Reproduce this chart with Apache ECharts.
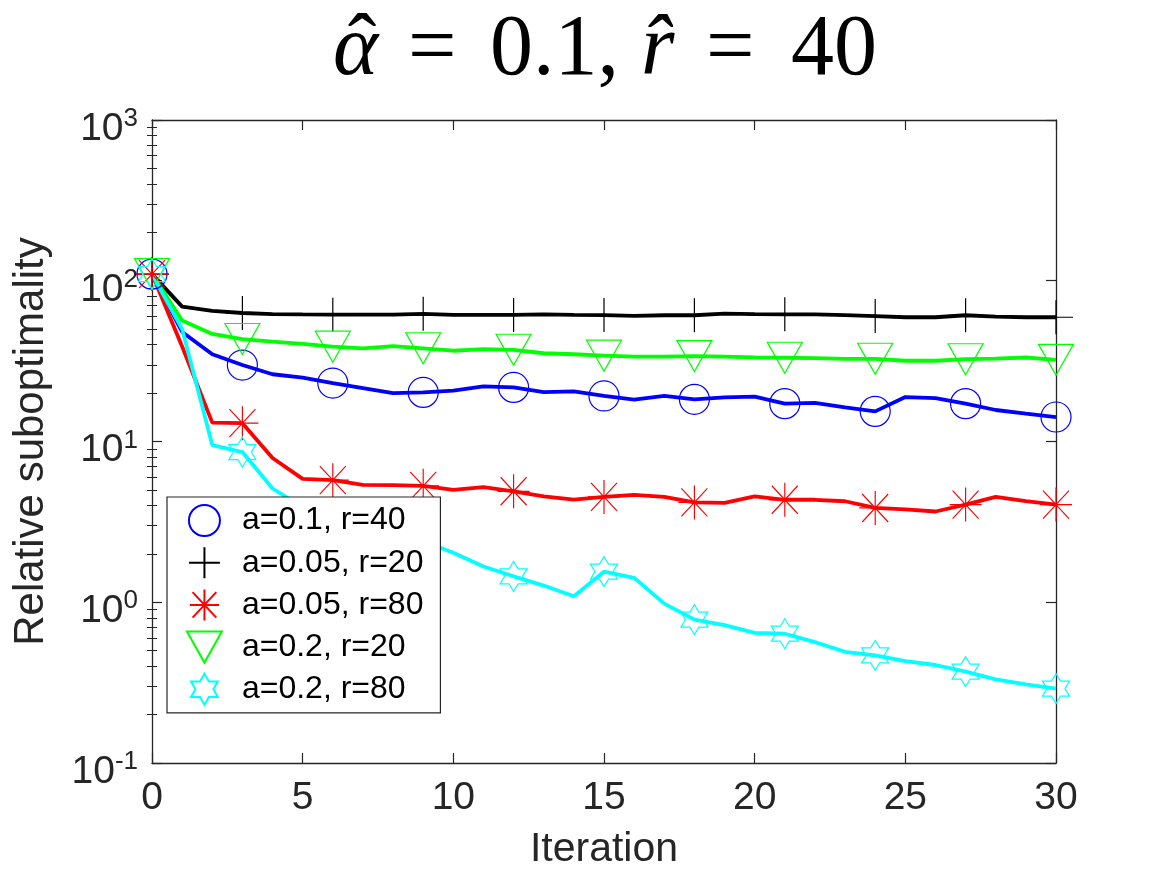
<!DOCTYPE html>
<html>
<head>
<meta charset="utf-8">
<script src="https://cdn.jsdelivr.net/npm/echarts@6/dist/echarts.min.js"></script>
<style>
html, body { margin: 0; padding: 0; background: #fff; }
#chart { width: 1167px; height: 875px; }
</style>
</head>
<body>
<div id="chart"></div>
<script>
// iterations on the x axis
var iterations = [0, 1, 2, 3, 4, 5, 6, 7, 8, 9, 10, 11, 12, 13, 14, 15,
                  16, 17, 18, 19, 20, 21, 22, 23, 24, 25, 26, 27, 28, 29, 30];

// relative suboptimality
var blueVals  = [110, 48, 34.9, 29.9, 26.2, 25, 23.1, 21.5, 20, 20.2, 20.7, 22, 21.7, 20.3, 20.5, 19.2,
                 18.2, 19.2, 18.3, 18.8, 19, 17.2, 17.4, 16.3, 15.4, 18.9, 18.6, 17.2, 15.7, 14.9, 14.2];
var blackVals = [110, 69, 65, 63, 62, 61.7, 61.5, 61.5, 61.5, 62.3, 61.3, 61.3, 61.3, 61.8, 61.3, 61.2,
                 60.4, 61, 61, 62.5, 62, 61.8, 61.8, 61.2, 60.3, 59.3, 59.3, 61, 59.8, 59.3, 59.3];
var redVals   = [110, 39, 13.1, 13, 7.9, 5.85, 5.75, 5.38, 5.35, 5.3, 5.0, 5.2, 4.9, 4.55, 4.35, 4.52,
                 4.65, 4.52, 4.18, 4.15, 4.55, 4.34, 4.34, 4.25, 3.86, 3.78, 3.67, 4.05, 4.52, 4.25, 4.05];
var greenVals = [110, 56.5, 46.7, 43.4, 41.8, 40.5, 38.9, 38, 39.2, 38, 36.7, 37.5, 37.2, 35.4, 34.9, 34.2,
                 33.7, 33.7, 34, 33.7, 33.4, 33.2, 33, 32.7, 32.7, 31.8, 31.8, 32.5, 32.8, 33.3, 32.2];
var cyanVals  = [110, 50, 9.5, 8.6, 5.1, 3.9, 3.4, 3.0, 2.7, 2.4, 2.03, 1.67, 1.45, 1.27, 1.09, 1.55,
                 1.42, 0.98, 0.78, 0.72, 0.645, 0.637, 0.565, 0.492, 0.467, 0.43, 0.407, 0.37, 0.331, 0.308, 0.29];

var seriesNames = ['a=0.1, r=40', 'a=0.05, r=20', 'a=0.05, r=80', 'a=0.2, r=20', 'a=0.2, r=80'];
var seriesVals  = [blueVals, blackVals, redVals, greenVals, cyanVals];
var colors      = ['#0000ff', '#000000', '#ff0000', '#00ff00', '#00ffff'];

var minorMul = [2, 3, 4, 5, 6, 7, 8, 9];
var markerEvery = 3;

var axisColor = '#262626';
var sans = 'Liberation Sans, Arial, sans-serif';
var serif = 'Liberation Serif, Times New Roman, serif';

// hexagram outline (12 vertices)
function hexagramPath() {
    var pts = [], R = 15, r = 15 / Math.sqrt(3);
    for (var k = 0; k < 12; k++) {
        var ang = -Math.PI / 2 + k * Math.PI / 6;
        var rad = k % 2 === 0 ? R : r;
        pts.push((R * 0.866 + rad * Math.cos(ang)).toFixed(2) + ',' + (R + rad * Math.sin(ang)).toFixed(2));
    }
    return 'path://M' + pts.join('L') + 'Z';
}

var symbols = [
    'circle',
    'path://M17,0L17,34M0,17L34,17',
    'path://M16,0L16,34M0,17L32,17M3,3L29,31M3,31L29,3',
    'path://M0,0L36,0L18,32Z',
    hexagramPath()
];
var symbolSizes = [30, [34, 34], [32, 34], [35, 31], [27, 30]];

// minor tick positions in log10 space
var minorLog = [];
for (var d = -1; d < 3; d++) {
    minorMul.forEach(function (m) { minorLog.push(Math.log10(m * Math.pow(10, d))); });
}

var series = [];
seriesVals.forEach(function (vals, i) {
    series.push({
        name: 'line' + i,
        type: 'line',
        xAxisIndex: 0,
        yAxisIndex: 0,
        data: iterations.map(function (it, j) { return [it, vals[j]]; }),
        showSymbol: false,
        symbol: 'none',
        lineStyle: { color: colors[i], width: 3.8 },
        itemStyle: { color: colors[i] },
        silent: true,
        z: 2 + i
    });
});
seriesVals.forEach(function (vals, i) {
    var pts = [];
    iterations.forEach(function (it, j) {
        if (it % markerEvery === 0) pts.push([it, vals[j]]);
    });
    series.push({
        name: seriesNames[i],
        type: 'scatter',
        xAxisIndex: 0,
        yAxisIndex: 0,
        data: pts,
        symbol: symbols[i],
        symbolSize: symbolSizes[i],
        symbolKeepAspect: false,
        clip: false,
        itemStyle: { color: 'rgba(0,0,0,0)', borderColor: colors[i], borderWidth: 1.2, opacity: 1 },
        emphasis: { disabled: true },
        z: 10
    });
});

// title pieces: alpha-hat = 0.1, r-hat = 40
function titleText(str, x, italic, align) {
    return {
        type: 'text', x: x, y: 51, silent: true,
        style: {
            text: str, fill: '#000', align: align || 'left', verticalAlign: 'middle',
            font: (italic ? 'italic ' : '') + '86px ' + serif
        }
    };
}

var chart = echarts.init(document.getElementById('chart'));
chart.setOption({
    animation: false,
    backgroundColor: '#fff',
    graphic: [
        titleText('α', 333, true),
        titleText('ˆ', 362, false, 'center'),
        titleText('=', 408, false),
        titleText('0.1,', 490, false),
        titleText('r\u0302', 641, true),
        titleText('=', 706, false),
        titleText('40', 791, false)
    ],
    legend: {
        orient: 'vertical',
        left: 167,
        top: 497,
        padding: [7, 17, 7, 19],
        itemWidth: 65,
        itemHeight: 31,
        itemGap: 9.2,
        backgroundColor: '#fff',
        borderColor: axisColor,
        borderWidth: 1.2,
        borderRadius: 0,
        data: seriesNames,
        textStyle: { fontFamily: sans, fontSize: 32, color: '#000' },
        z: 20
    },
    grid: { left: 152, right: 111, top: 120, bottom: 112, containLabel: false, outerBoundsMode: 'none' },
    xAxis: [{
        type: 'value', min: 0, max: 30, interval: 5, position: 'bottom',
        name: 'Iteration', nameLocation: 'middle', nameGap: 66,
        nameTextStyle: { fontFamily: sans, fontSize: 41, color: axisColor },
        axisLine: { show: true, onZero: false, lineStyle: { color: axisColor, width: 1.3 } },
        axisTick: { show: true, inside: true, length: 10, lineStyle: { color: axisColor, width: 1.2 } },
        axisLabel: { fontFamily: sans, fontSize: 39, color: axisColor, margin: 16 },
        splitLine: { show: false }
    }, {
        type: 'value', min: 0, max: 30, interval: 5, position: 'top',
        axisLine: { show: true, onZero: false, lineStyle: { color: axisColor, width: 1.3 } },
        axisTick: { show: true, inside: true, length: 10, lineStyle: { color: axisColor, width: 1.2 } },
        axisLabel: { show: false },
        splitLine: { show: false }
    }],
    yAxis: [{
        type: 'log', logBase: 10, min: 0.1, max: 1000, position: 'left',
        name: 'Relative suboptimality', nameLocation: 'middle', nameGap: 100,
        nameTextStyle: { fontFamily: sans, fontSize: 42, color: axisColor },
        axisLine: { show: true, onZero: false, lineStyle: { color: axisColor, width: 1.3 } },
        axisTick: { show: true, inside: true, length: 10, lineStyle: { color: axisColor, width: 1.2 } },
        axisLabel: {
            margin: 14,
            padding: [18, 0, 0, 0],
            formatter: function (v) { return '{b|10}{s|' + Math.round(Math.log10(v)) + '}'; },
            rich: {
                b: { fontFamily: sans, fontSize: 39, color: axisColor, lineHeight: 46 },
                s: { fontFamily: sans, fontSize: 26, color: axisColor, lineHeight: 20, verticalAlign: 'top' }
            }
        },
        splitLine: { show: false }
    }, {
        type: 'log', logBase: 10, min: 0.1, max: 1000, position: 'right',
        axisLine: { show: true, onZero: false, lineStyle: { color: axisColor, width: 1.3 } },
        axisTick: { show: true, inside: true, length: 10, lineStyle: { color: axisColor, width: 1.2 } },
        axisLabel: { show: false },
        splitLine: { show: false }
    }, {
        type: 'value', min: -1, max: 3, position: 'left',
        axisLine: { show: false },
        axisTick: { show: true, inside: true, length: 5, customValues: minorLog, lineStyle: { color: axisColor, width: 1 } },
        axisLabel: { show: false },
        splitLine: { show: false }
    }, {
        type: 'value', min: -1, max: 3, position: 'right',
        axisLine: { show: false },
        axisTick: { show: true, inside: true, length: 5, customValues: minorLog, lineStyle: { color: axisColor, width: 1 } },
        axisLabel: { show: false },
        splitLine: { show: false }
    }],
    series: series
});
</script>
</body>
</html>
